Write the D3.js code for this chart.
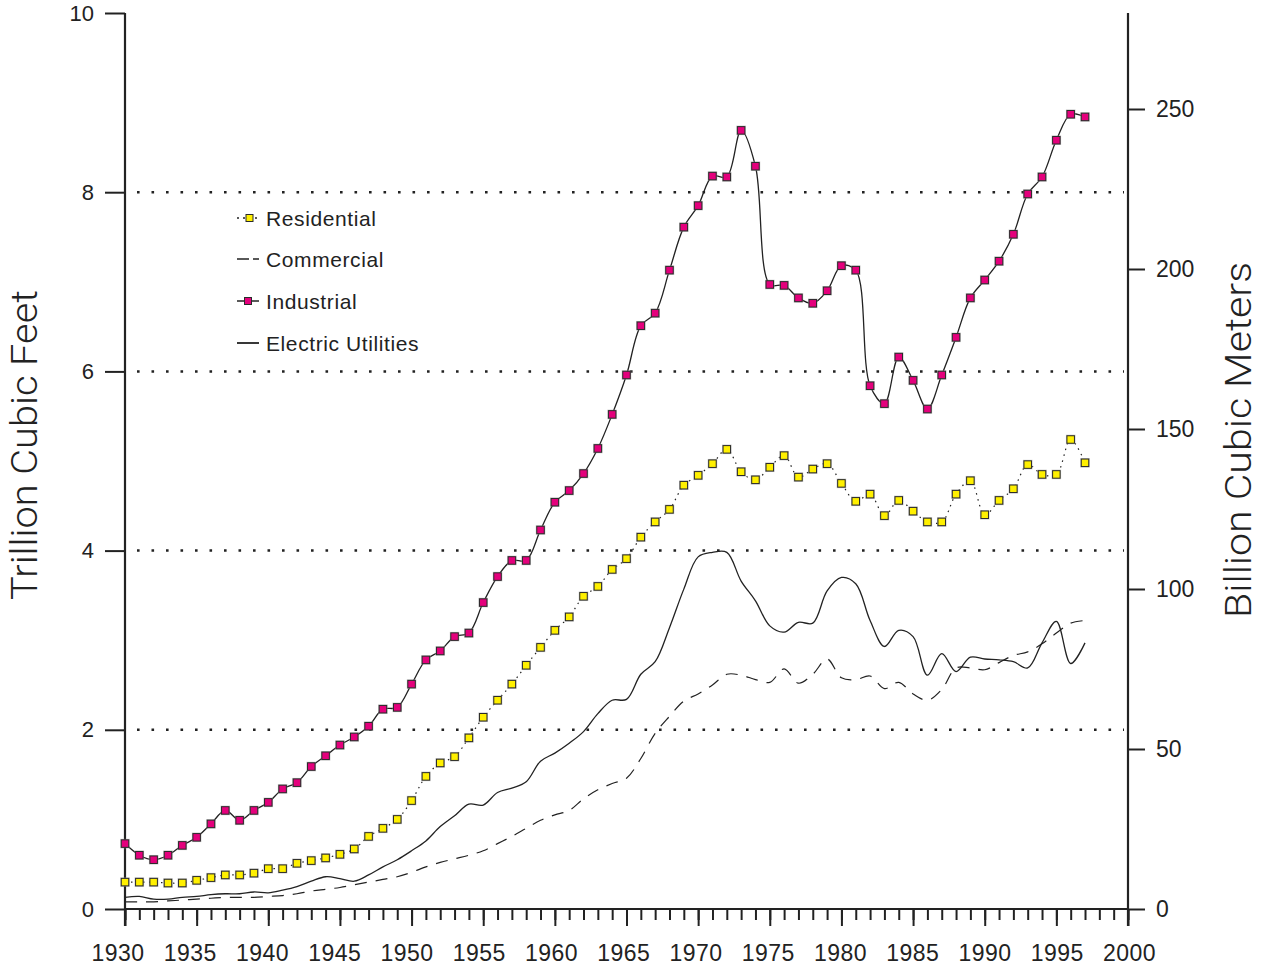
<!DOCTYPE html>
<html>
<head>
<meta charset="utf-8">
<script src="https://cdn.jsdelivr.net/npm/d3@7"></script>
<style>
  body { margin: 0; background: #fff; }
  text { font-family: "Liberation Sans", Arial, sans-serif; fill: #222; }
</style>
</head>
<body>
<svg width="1264" height="968"></svg>
<script>
// Natural gas consumption by sector, trillion cubic feet, 1930-1997
var firstYear = 1930;

var residential = [0.30,0.30,0.30,0.29,0.29,0.32,0.35,0.38,0.38,0.40,
  0.45,0.45,0.51,0.54,0.57,0.61,0.67,0.81,0.90,1.00,
  1.21,1.48,1.63,1.70,1.91,2.14,2.33,2.51,2.72,2.92,
  3.11,3.26,3.49,3.60,3.79,3.91,4.15,4.32,4.46,4.73,
  4.84,4.97,5.13,4.88,4.79,4.93,5.06,4.82,4.91,4.97,
  4.75,4.55,4.63,4.39,4.56,4.44,4.32,4.32,4.63,4.78,
  4.40,4.56,4.69,4.96,4.85,4.85,5.24,4.98];

var commercial = [0.08,0.08,0.08,0.09,0.10,0.11,0.12,0.13,0.13,0.13,
  0.14,0.15,0.17,0.20,0.22,0.24,0.27,0.30,0.33,0.36,
  0.41,0.47,0.52,0.56,0.60,0.65,0.73,0.81,0.90,0.99,
  1.05,1.10,1.23,1.33,1.40,1.46,1.68,1.96,2.15,2.32,
  2.40,2.50,2.62,2.61,2.56,2.53,2.68,2.52,2.62,2.79,
  2.58,2.56,2.60,2.46,2.53,2.40,2.33,2.45,2.69,2.69,
  2.67,2.75,2.83,2.87,2.96,3.08,3.19,3.22];

var industrial = [0.73,0.60,0.55,0.60,0.71,0.80,0.95,1.10,0.99,1.10,
  1.19,1.34,1.41,1.59,1.71,1.83,1.92,2.04,2.23,2.25,
  2.51,2.78,2.88,3.04,3.08,3.42,3.71,3.89,3.89,4.23,
  4.54,4.67,4.86,5.14,5.52,5.96,6.51,6.65,7.13,7.61,
  7.85,8.18,8.17,8.69,8.29,6.97,6.96,6.82,6.76,6.90,
  7.18,7.13,5.84,5.64,6.16,5.90,5.58,5.96,6.38,6.82,
  7.02,7.23,7.53,7.98,8.17,8.58,8.87,8.84];

var electric = [0.13,0.14,0.11,0.11,0.13,0.14,0.16,0.17,0.17,0.19,
  0.18,0.21,0.25,0.31,0.36,0.34,0.31,0.38,0.47,0.55,
  0.65,0.76,0.92,1.04,1.17,1.16,1.30,1.35,1.42,1.65,
  1.74,1.85,1.98,2.18,2.33,2.34,2.62,2.76,3.14,3.57,
  3.93,3.98,3.98,3.66,3.44,3.16,3.09,3.20,3.19,3.55,
  3.70,3.63,3.22,2.93,3.11,3.04,2.61,2.85,2.65,2.81,
  2.79,2.78,2.76,2.69,2.97,3.21,2.74,2.97];

var yearLabels = [1930,1935,1940,1945,1950,1955,1960,1965,1970,1975,1980,1985,1990,1995,2000];
var leftTicks = [0, 2, 4, 6, 8, 10];
var gridTicks = [2, 4, 6, 8];
var rightTicks = [0, 50, 100, 150, 200, 250];
var legendNames = ["Residential", "Commercial", "Industrial", "Electric Utilities"];

var svg = d3.select("svg");

var x = d3.scaleLinear().domain([1930, 2000]).range([125, 1128]);
//year labels in the original sit a little left of their ticks, drifting to centred at 2000
var xLabel = d3.scaleLinear().domain([1930, 2000]).range([117.5, 1129]);
var y = d3.scaleLinear().domain([0, 10]).range([909, 13]);
var y2 = d3.scaleLinear().domain([0, 280]).range([909, 13]);

var ink = "#222";

//Dotted grid lines
svg.append("g")
  .selectAll("line")
  .data(gridTicks)
  .enter()
  .append("line")
  .attr("x1", 137)
  .attr("x2", x(2000) - 4)
  .attr("y1", function(d) { return y(d); })
  .attr("y2", function(d) { return y(d); })
  .attr("stroke", ink)
  .attr("stroke-width", 2.5)
  .attr("stroke-dasharray", "2.6,11.9");

//Bottom axis: minor ticks every year, major every 5
svg.append("g")
  .attr("transform", "translate(0," + y(0) + ")")
  .call(d3.axisBottom(x).tickValues(d3.range(1930, 2001, 1)).tickSize(11).tickSizeOuter(0).tickFormat(""))
  .call(function(g) { g.select(".domain").remove(); })
  .selectAll("line").attr("stroke", ink).attr("stroke-width", 2);

var xMajor = svg.append("g")
  .attr("transform", "translate(0," + y(0) + ")")
  .call(d3.axisBottom(x).tickValues(yearLabels).tickSize(17).tickSizeOuter(0).tickFormat(d3.format("d")));
xMajor.select(".domain").remove();
xMajor.selectAll("line").attr("stroke", ink).attr("stroke-width", 2);
xMajor.selectAll("text")
  .attr("x", function(d) { return xLabel(d) - x(d); })
  .attr("y", 36)
  .attr("dy", "0.71em")
  .style("font-size", "23px")
  .style("letter-spacing", "0.4px")
  .style("font-family", "Liberation Sans, Arial, sans-serif")
  .attr("fill", "#2a2a2a");

//Left axis
var yAxisG = svg.append("g")
  .attr("transform", "translate(" + x(1930) + ",0)")
  .call(d3.axisLeft(y).tickValues(leftTicks).tickSize(20).tickSizeOuter(0).tickPadding(11).tickFormat(d3.format("d")));
yAxisG.select(".domain").remove();
yAxisG.selectAll("line").attr("stroke", ink).attr("stroke-width", 2);
yAxisG.selectAll("text")
  .style("font-size", "22px")
  .style("font-family", "Liberation Sans, Arial, sans-serif")
  .attr("fill", "#2a2a2a");

//Right axis
var y2AxisG = svg.append("g")
  .attr("transform", "translate(" + x(2000) + ",0)")
  .call(d3.axisRight(y2).tickValues(rightTicks).tickSize(17).tickSizeOuter(0).tickPadding(11).tickFormat(d3.format("d")));
y2AxisG.select(".domain").remove();
y2AxisG.selectAll("line").attr("stroke", ink).attr("stroke-width", 2);
y2AxisG.selectAll("text")
  .style("font-size", "23px")
  .style("font-family", "Liberation Sans, Arial, sans-serif")
  .attr("fill", "#2a2a2a");

//Axis lines
svg.append("line")
  .attr("x1", x(1930)).attr("x2", x(1930))
  .attr("y1", y(10)).attr("y2", y(0) + 17)
  .attr("stroke", ink).attr("stroke-width", 2.2);
svg.append("line")
  .attr("x1", x(2000)).attr("x2", x(2000))
  .attr("y1", y(10)).attr("y2", y(0) + 17)
  .attr("stroke", ink).attr("stroke-width", 2.2);
svg.append("line")
  .attr("x1", x(1930)).attr("x2", x(2000))
  .attr("y1", y(0)).attr("y2", y(0))
  .attr("stroke", ink).attr("stroke-width", 2.2);

//Axis titles (thin, tall look)
svg.append("text")
  .attr("transform", "translate(37," + 445 + ") rotate(-90)")
  .attr("text-anchor", "middle")
  .attr("textLength", 310)
  .attr("lengthAdjust", "spacingAndGlyphs")
  .style("font-family", "Roboto, 'Liberation Sans', sans-serif")
  .style("font-weight", "300")
  .style("font-size", "36px")
  .attr("fill", "#2a2a2a")
  .text("Trillion Cubic Feet");

svg.append("text")
  .attr("transform", "translate(1251," + 440 + ") rotate(-90)")
  .attr("text-anchor", "middle")
  .attr("textLength", 356)
  .attr("lengthAdjust", "spacingAndGlyphs")
  .style("font-family", "Roboto, 'Liberation Sans', sans-serif")
  .style("font-weight", "300")
  .style("font-size", "36px")
  .attr("fill", "#2a2a2a")
  .text("Billion Cubic Meters");

//Lines
function lineFor(values) {
  return d3.line()
    .x(function(d, i) { return x(firstYear + i); })
    .y(function(d) { return y(d); })
    .curve(d3.curveCatmullRom.alpha(0.5))(values);
}

svg.append("path")
  .attr("d", lineFor(commercial))
  .attr("fill", "none")
  .attr("stroke", ink)
  .attr("stroke-width", 1.2)
  .attr("stroke-dasharray", "12,9");

svg.append("path")
  .attr("d", lineFor(electric))
  .attr("fill", "none")
  .attr("stroke", ink)
  .attr("stroke-width", 1.3);

svg.append("path")
  .attr("d", lineFor(residential))
  .attr("fill", "none")
  .attr("stroke", ink)
  .attr("stroke-width", 1.2)
  .attr("stroke-dasharray", "1.5,4.5");

svg.append("path")
  .attr("d", lineFor(industrial))
  .attr("fill", "none")
  .attr("stroke", ink)
  .attr("stroke-width", 1.3);

//Square markers
function drawSquares(values, fill, size) {
  var g = svg.append("g");
  g.selectAll("rect.halo")
    .data(values)
    .enter()
    .append("rect")
    .attr("x", function(d, i) { return x(firstYear + i) - size / 2 - 1; })
    .attr("y", function(d) { return y(d) - size / 2 - 1; })
    .attr("width", size + 2)
    .attr("height", size + 2)
    .attr("fill", "#9a9a9a")
    .attr("opacity", 0.6);
  g.selectAll("rect.mark")
    .data(values)
    .enter()
    .append("rect")
    .attr("x", function(d, i) { return x(firstYear + i) - size / 2; })
    .attr("y", function(d) { return y(d) - size / 2; })
    .attr("width", size)
    .attr("height", size)
    .attr("fill", fill)
    .attr("stroke", "#2a2a2a")
    .attr("stroke-width", 1);
}

drawSquares(residential, "#FFF000", 7.5);
drawSquares(industrial, "#E4007C", 7.5);

//Legend
var legendY = [218, 259, 301, 343];
var legend = svg.append("g");

legend.append("line")
  .attr("x1", 237).attr("x2", 259)
  .attr("y1", legendY[0]).attr("y2", legendY[0])
  .attr("stroke", ink).attr("stroke-width", 1.5)
  .attr("stroke-dasharray", "2,4");
legend.append("rect")
  .attr("x", 246).attr("y", legendY[0] - 3.5)
  .attr("width", 7).attr("height", 7)
  .attr("fill", "#FFF000").attr("stroke", "#2a2a2a");

legend.append("line")
  .attr("x1", 237).attr("x2", 259)
  .attr("y1", legendY[1]).attr("y2", legendY[1])
  .attr("stroke", ink).attr("stroke-width", 1.5)
  .attr("stroke-dasharray", "12,4,6,0");

legend.append("line")
  .attr("x1", 237).attr("x2", 259)
  .attr("y1", legendY[2]).attr("y2", legendY[2])
  .attr("stroke", ink).attr("stroke-width", 1.5);
legend.append("rect")
  .attr("x", 244.5).attr("y", legendY[2] - 3.5)
  .attr("width", 7).attr("height", 7)
  .attr("fill", "#E4007C").attr("stroke", "#2a2a2a");

legend.append("line")
  .attr("x1", 237).attr("x2", 259)
  .attr("y1", legendY[3]).attr("y2", legendY[3])
  .attr("stroke", ink).attr("stroke-width", 1.8);

legend.selectAll("text")
  .data(legendNames)
  .enter()
  .append("text")
  .attr("x", 266)
  .attr("y", function(d, i) { return legendY[i] + 8; })
  .style("font-size", "21px")
  .style("letter-spacing", "0.6px")
  .attr("fill", "#2a2a2a")
  .text(function(d) { return d; });
</script>
</body>
</html>
